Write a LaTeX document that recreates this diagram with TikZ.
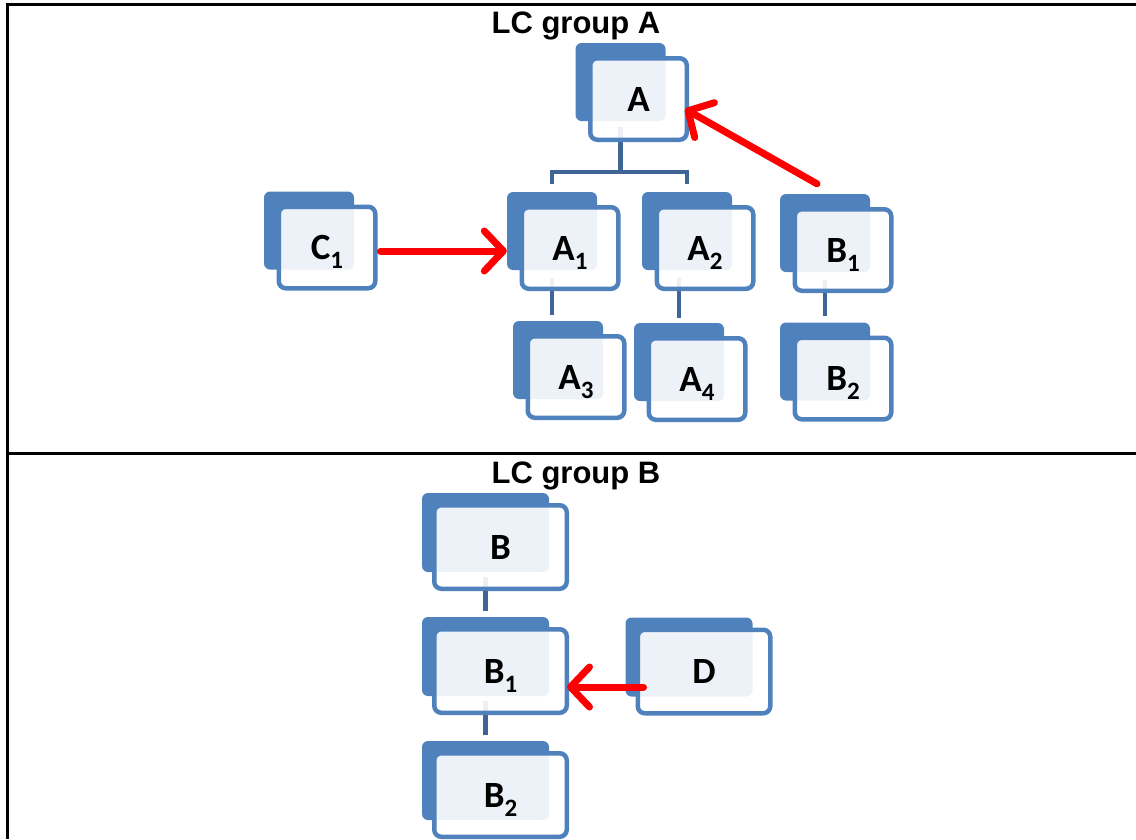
\documentclass[tikz,border=0pt]{standalone}
\usepackage{fontspec}
\setmainfont{Carlito}
\newfontfamily\titlefont{Liberation Sans}
\usetikzlibrary{calc,arrows.meta,backgrounds}
\definecolor{boxblue}{HTML}{4F81BD}
\definecolor{connblue}{HTML}{3F6596}
\definecolor{arrred}{HTML}{FF0000}
\newcommand\lsub[1]{\raisebox{-9pt}[0pt][0pt]{\fontsize{25}{25}\selectfont #1}}
\tikzset{
  backbase/.style={fill=boxblue, rounded corners=6pt, inner sep=0pt},
  backn/.style={backbase, minimum width=90pt, minimum height=78pt},
  backw/.style={backbase, minimum width=127pt, minimum height=79pt},
  frontbase/.style={draw=boxblue, line width=4.5pt, fill=white, fill opacity=0.9,
    text opacity=1, rounded corners=7pt, inner sep=0pt,
    font=\fontsize{37}{37}\selectfont\bfseries},
  frontn/.style={frontbase, minimum width=96.5pt, minimum height=81.5pt},
  frontw/.style={frontbase, minimum width=132.5pt, minimum height=83.5pt},
  conn/.style={draw=connblue, line width=4.5pt},
  redarrow/.style={draw=arrred, line width=7pt, line cap=round,
    -{Straight Barb[length=19pt,width=40pt,round]}},
  frameline/.style={draw=black, line width=3pt},
  titletext/.style={font=\titlefont\bfseries\fontsize{31}{31}\selectfont, anchor=base, inner sep=0pt}
}
\newcommand\nbox[4]{%
  \begin{pgfonlayer}{background}\node[backn] (#1b) at (#2-18,#3-17) {};\end{pgfonlayer}
  \node[frontn] (#1) at (#2,#3) {#4};}
\newcommand\wbox[4]{%
  \begin{pgfonlayer}{background}\node[backw] (#1b) at (#2-15,#3-14.5) {};\end{pgfonlayer}
  \node[frontw] (#1) at (#2,#3) {#4};}
\begin{document}
\begin{tikzpicture}[x=1pt,y=-1pt]
\useasboundingbox (0,0) rectangle (1136,839);
% frame
\draw[frameline] (1136,4) -- (7,4) -- (7,839);
\draw[frameline] (7,453) -- (1136,453);
% titles
\node[titletext] (tA) at (576,33) {LC group A};
\node[titletext] (tB) at (576,483) {LC group B};
% group A boxes
\nbox{A}{638.5}{99}{A}
\nbox{C1}{327}{247.5}{C\lsub{1}}
\nbox{A1}{570}{248}{A\lsub{1}}
\nbox{A2}{705}{248}{A\lsub{2}}
\nbox{B1t}{843}{250}{B\lsub{1}}
\nbox{A3}{576}{377}{A\lsub{3}}
\nbox{A4}{697}{379}{A\lsub{4}}
\nbox{B2t}{843}{378.5}{B\lsub{2}}
% group B boxes
\wbox{B}{500.5}{547}{B}
\wbox{B1}{500.5}{671}{B\lsub{1}}
\wbox{D}{704}{671.5}{D}
\wbox{B2}{500.5}{795}{B\lsub{2}}
% connectors (behind the front boxes)
\begin{pgfonlayer}{background}
\draw[conn] ($(Ab.south)+(0,6)$) -- ++(0,45) coordinate (bk);
\draw[conn] ($(A1b.north)+(0,-8)$) |- (bk) -| ($(A2b.north)+(0,-8)$);
\draw[conn] ($(A1b.south)+(0,8)$) coordinate (t1) -- ($(t1 |- A3b.north)+(0,-6)$);
\draw[conn] ($(A4b.north)+(0,-5)$) coordinate (t2) -- ($(t2 |- A2b.south)+(0,8)$);
\draw[conn] ($(B1tb.south)+(0,8)$) coordinate (t3) -- ($(t3 |- B2tb.north)+(0,-6)$);
\draw[conn] ($(Bb.south)+(0,5)$) -- ($(B1b.north)+(0,-6)$);
\draw[conn] ($(B1b.south)+(0,5)$) -- ($(B2b.north)+(0,-6)$);
\end{pgfonlayer}
% red arrows
\draw[redarrow] ($(C1.east)+(3,3.5)$) coordinate (r1) -- (r1 -| A1b.west);
\draw[redarrow] ($(B1tb.north)+(-8,-10)$) -- ($(A.east)+(-4,10)$);
\draw[redarrow] ($(D.west)+(8,15.5)$) coordinate (r3) -- ($(r3 -| B1.east)+(-2,0)$);
\end{tikzpicture}
\end{document}
